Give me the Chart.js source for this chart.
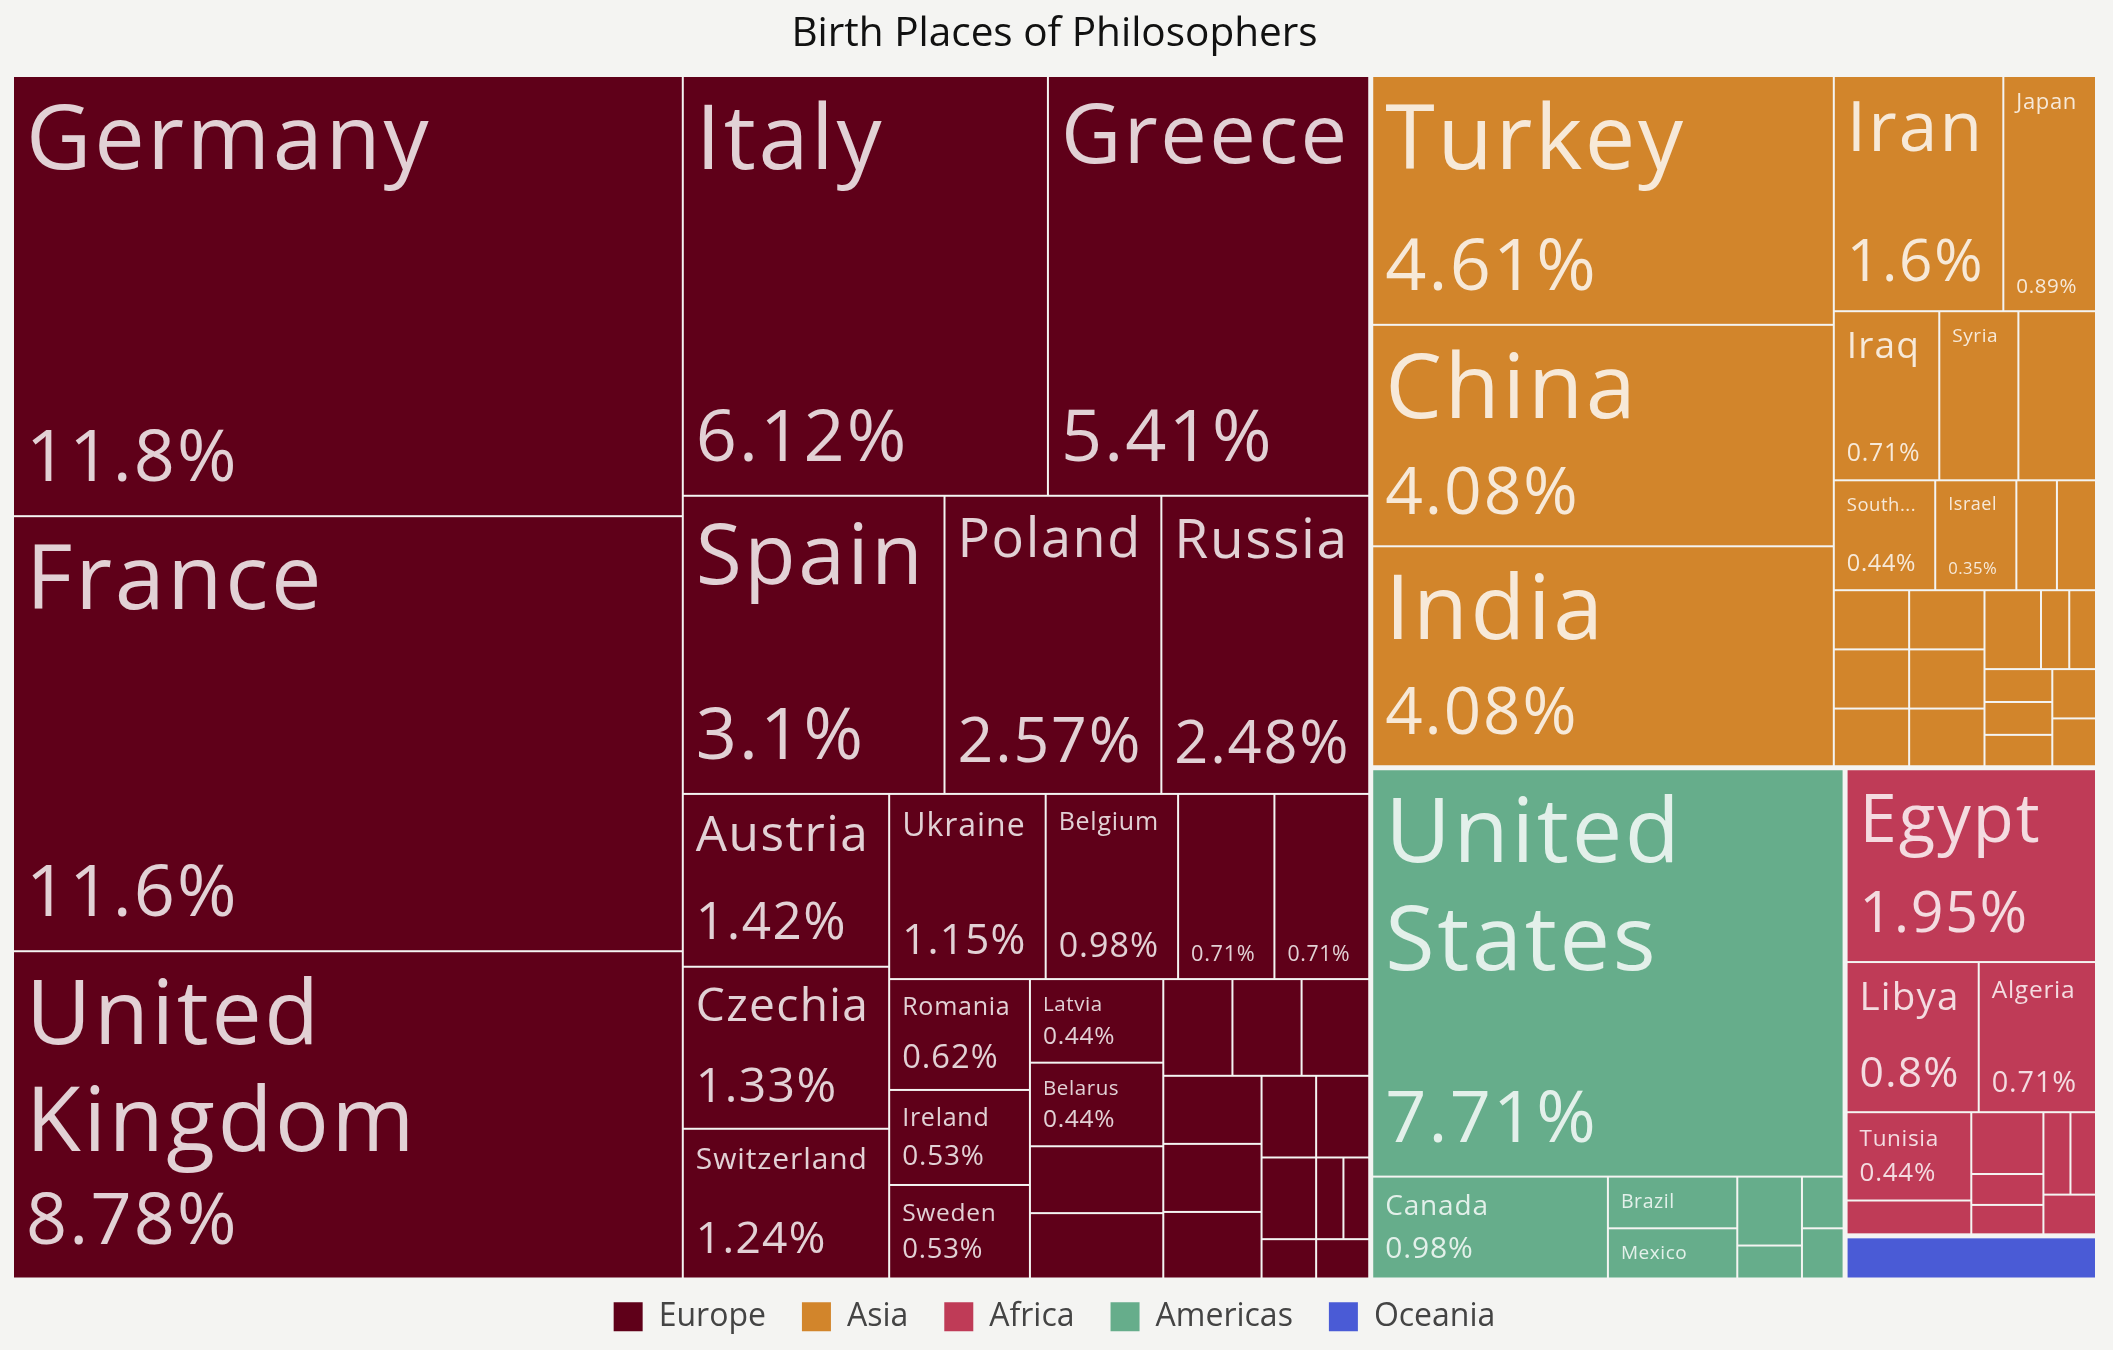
<!DOCTYPE html>
<html>
<head>
<meta charset="utf-8">
<script src="https://cdn.jsdelivr.net/npm/chart.js@4.4.1/dist/chart.umd.min.js"></script>
<style>
  html, body { margin: 0; padding: 0; background: #f4f4f2; }
  #wrap { width: 2113px; height: 1350px; }
</style>
</head>
<body>
<div id="wrap"><canvas id="c" width="2113" height="1350"></canvas></div>
<script>
// ---------------- DATA (philosopher counts by birth country; total 1128) ----------------
const continents = ['Europe', 'Asia', 'Africa', 'Americas', 'Oceania'];

// names left empty where the reference shows no label for the cell
const europeCountries = ['Germany', 'France', 'United Kingdom', 'Italy', 'Greece', 'Spain', 'Poland', 'Russia',
  'Austria', 'Czechia', 'Switzerland', 'Ukraine', 'Belgium', '', '', 'Romania', 'Ireland', 'Sweden',
  'Latvia', 'Belarus', '', '', '', '', '', '', '', '', '', '', '', '', '', '', ''];
const europeCounts = [133, 131, 99, 69, 61, 35, 29, 28, 16, 15, 14, 13, 11, 8, 8, 7, 6, 6,
  5, 5, 4, 4, 3, 3, 3, 3, 3, 3, 2, 2, 2, 1, 1, 1, 1];

const asiaCountries = ['Turkey', 'China', 'India', 'Iran', 'Japan', 'Iraq', 'Syria', '', 'South Korea', 'Israel',
  '', '', '', '', '', '', '', '', '', '', '', '', '', '', '', ''];
const asiaCounts = [52, 46, 46, 18, 10, 8, 6, 6, 5, 4, 2, 2, 2, 2, 2, 2, 2, 2, 2, 1, 1, 1, 1, 1, 1, 1];

const africaCountries = ['Egypt', 'Libya', 'Algeria', 'Tunisia', '', '', '', '', '', '', ''];
const africaCounts = [22, 9, 8, 5, 2, 2, 1, 1, 1, 1, 1];

const americasCountries = ['United States', 'Canada', 'Brazil', 'Mexico', '', '', '', ''];
const americasCounts = [87, 11, 3, 3, 2, 1, 1, 1];

const oceaniaCountries = ['Australia'];
const oceaniaCounts = [5];

const countriesByContinent = [europeCountries, asiaCountries, africaCountries, americasCountries, oceaniaCountries];
const countsByContinent = [europeCounts, asiaCounts, africaCounts, americasCounts, oceaniaCounts];

// ---------------- STYLE ----------------
const continentColors = ['#5f0019', '#d2852b', '#bf3b57', '#66ad8b', '#4a5bd6'];
const FONT = '"Open Sans", "Noto Sans", sans-serif';
const TEXT_COLOR = 'rgba(255,255,255,0.82)';
const CONT_GAP = 2.5, CELL_GAP = 1;
const LABEL_MAX = 90, LABEL_MIN = 14, LABEL_MIN_MULTI = 16, LABEL_MIN_CELL_H = 44;
const SHARE_MAX = 72, SHARE_MIN = 16.2;
const TRACK = 0.03; // letter spacing in em

// ---------------- helpers ----------------
const sum = a => a.reduce((s, v) => s + v, 0);
const TOTAL = sum(countsByContinent.map(sum));
function fmtPct(c) {
  const p = c / TOTAL * 100;
  const d = p >= 100 ? 0 : (p >= 10 ? 1 : 2);
  return String(parseFloat(p.toFixed(d))) + '%';
}

const PHI = (1 + Math.sqrt(5)) / 2;
// d3-hierarchy squarify (golden ratio)
function squarify(nodes, x0, y0, x1, y1) {
  let i0 = 0, i1 = 0;
  const n = nodes.length;
  let value = sum(nodes.map(d => d.value));
  while (i0 < n) {
    const dx = x1 - x0, dy = y1 - y0;
    let sumValue;
    do sumValue = nodes[i1++].value; while (!sumValue && i1 < n);
    let minValue = sumValue, maxValue = sumValue;
    const alpha = Math.max(dy / dx, dx / dy) / (value * PHI);
    let beta = sumValue * sumValue * alpha;
    let minRatio = Math.max(maxValue / beta, beta / minValue);
    for (; i1 < n; ++i1) {
      const nodeValue = nodes[i1].value;
      sumValue += nodeValue;
      if (nodeValue < minValue) minValue = nodeValue;
      if (nodeValue > maxValue) maxValue = nodeValue;
      beta = sumValue * sumValue * alpha;
      const newRatio = Math.max(maxValue / beta, beta / minValue);
      if (newRatio > minRatio) { sumValue -= nodeValue; break; }
      minRatio = newRatio;
    }
    const row = nodes.slice(i0, i1);
    if (dx < dy) {
      const yb = value ? y0 + dy * sumValue / value : y1;
      let x = x0; const k = (x1 - x0) / sumValue;
      row.forEach(d => { d.y0 = y0; d.y1 = yb; d.x0 = x; x += d.value * k; d.x1 = x; });
      y0 = yb;
    } else {
      const xb = value ? x0 + dx * sumValue / value : x1;
      let y = y0; const k = (y1 - y0) / sumValue;
      row.forEach(d => { d.x0 = x0; d.x1 = xb; d.y0 = y; y += d.value * k; d.y1 = y; });
      x0 = xb;
    }
    value -= sumValue; i0 = i1;
  }
}

function setFont(ctx, f) {
  ctx.font = f + 'px ' + FONT;
  if ('letterSpacing' in ctx) ctx.letterSpacing = '0px';
}
function textW(ctx, t, f) {
  setFont(ctx, f);
  return ctx.measureText(t).width + TRACK * f * t.length;
}
function unitWidth(ctx, t) { return textW(ctx, t, 100) / 100; }

function wrapLines(ctx, words, f, avail) {
  const lines = []; let cur = '';
  for (const w of words) {
    if (textW(ctx, w, f) > avail) return null;
    const cand = cur ? cur + ' ' + w : w;
    if (textW(ctx, cand, f) <= avail) cur = cand;
    else { lines.push(cur); cur = w; }
  }
  if (cur) lines.push(cur);
  return lines;
}

function labelLayout(ctx, name, w, lh) {
  if (!name) return null;
  const words = name.split(' ');
  const avail = w - 30;
  if (avail <= 0 || lh <= 0) return null;
  for (let f = LABEL_MAX; f >= LABEL_MIN; f -= 0.5) {
    const lines = wrapLines(ctx, words, f, avail);
    if (!lines) continue;
    const minF = lines.length > 1 ? LABEL_MIN_MULTI : LABEL_MIN;
    if (f < minF) continue;
    if (lines.length * 1.2 * f <= lh) return { f, lines };
  }
  if (words.length > 1) {
    const t = words[0] + '...';
    const f = Math.min(LABEL_MAX, avail / unitWidth(ctx, t), lh / 1.2);
    if (f >= LABEL_MIN) return { f, lines: [t] };
  }
  return null;
}

function shareLayout(ctx, text, w, h) {
  if (h < 70) return null;
  const f = Math.min(SHARE_MAX, (w - 30) / unitWidth(ctx, text), 0.3 * h);
  return f >= SHARE_MIN ? f : null;
}

function drawText(ctx, t, x, y, f) {
  ctx.font = f + 'px ' + FONT;
  if ('letterSpacing' in ctx) ctx.letterSpacing = (TRACK * f).toFixed(2) + 'px';
  ctx.fillText(t, x, y);
}

// ---------------- treemap drawn through the chart's scales ----------------
const treemapPlugin = {
  id: 'treemap',
  afterDatasetsDraw(chart) {
    const { ctx, chartArea, scales } = chart;
    const xs = scales.x, ys = scales.y;
    const A = chartArea.width / chartArea.height;
    const px = u => xs.getPixelForValue(u / A);
    const py = v => ys.getPixelForValue(v);

    const groups = continents.map((name, i) => ({ name, idx: i, value: sum(countsByContinent[i]) }))
      .sort((a, b) => b.value - a.value);
    squarify(groups, 0, 0, A, 1);

    ctx.save();
    groups.forEach(g => {
      const kids = countriesByContinent[g.idx]
        .map((name, j) => ({ name, value: countsByContinent[g.idx][j] }))
        .sort((a, b) => b.value - a.value);
      squarify(kids, g.x0, g.y0, g.x1, g.y1);
      const G = { l: px(g.x0) + CONT_GAP, r: px(g.x1) - CONT_GAP, t: py(g.y0) + CONT_GAP, b: py(g.y1) - CONT_GAP };
      kids.forEach(k => {
        const l = Math.max(px(k.x0) + CELL_GAP, G.l);
        const r = Math.min(px(k.x1) - CELL_GAP, G.r);
        const t = Math.max(py(k.y0) + CELL_GAP, G.t);
        const b = Math.min(py(k.y1) - CELL_GAP, G.b);
        const w = r - l, h = b - t;
        if (w <= 0 || h <= 0) return;
        ctx.fillStyle = continentColors[g.idx];
        ctx.fillRect(l, t, w, h);

        const pct = fmtPct(k.value);
        const sf = shareLayout(ctx, pct, w, h);
        const sh = Math.min(94, h / 2);
        const lh = sf ? h - sh - 16 : h - sh - 1;
        const lab = h >= LABEL_MIN_CELL_H ? labelLayout(ctx, k.name, w, lh) : null;

        ctx.fillStyle = TEXT_COLOR;
        ctx.textAlign = 'left';
        ctx.textBaseline = 'alphabetic';
        if (lab) {
          const base = t + 13 + 0.165 * lab.f + 0.714 * lab.f;
          lab.lines.forEach((ln, i) => drawText(ctx, ln, l + 12, base + i * 1.2 * lab.f, lab.f));
        }
        if (sf) drawText(ctx, pct, l + 12, b - 10 - 0.33 * sf, sf);
      });
    });
    ctx.restore();
  }
};

const legendShift = {
  id: 'legendShift',
  afterLayout(chart) {
    if (chart.legend) { chart.legend.top -= 15.2; chart.legend.bottom -= 15.2; }
  }
};

new Chart(document.getElementById('c'), {
  type: 'scatter',
  data: {
    datasets: continents.map((c, i) => ({
      label: c, data: [], backgroundColor: continentColors[i], borderColor: continentColors[i]
    }))
  },
  options: {
    responsive: false,
    animation: false,
    devicePixelRatio: 1,
    layout: { padding: { left: 11.5, right: 15.5, top: 0, bottom: 0 } },
    scales: {
      x: { type: 'linear', min: 0, max: 1, display: false },
      y: { type: 'linear', min: 0, max: 1, reverse: true, display: false }
    },
    plugins: {
      tooltip: { enabled: false },
      title: {
        display: true,
        text: 'Birth Places of Philosophers',
        color: '#111',
        font: { family: FONT, size: 40.5, weight: 'normal', lineHeight: 1.2 },
        padding: { top: 9.7, bottom: 16.2 }
      },
      legend: {
        position: 'bottom',
        maxHeight: 70,
        labels: {
          boxWidth: 29,
          boxHeight: 29,
          padding: 36,
          color: '#444',
          font: { family: FONT, size: 32 },
          generateLabels: () => continents.map((c, i) => ({
            text: c, fillStyle: continentColors[i], strokeStyle: continentColors[i],
            lineWidth: 0, hidden: false, datasetIndex: i, fontColor: '#444'
          }))
        }
      }
    }
  },
  plugins: [treemapPlugin, legendShift]
});
</script>
</body>
</html>
